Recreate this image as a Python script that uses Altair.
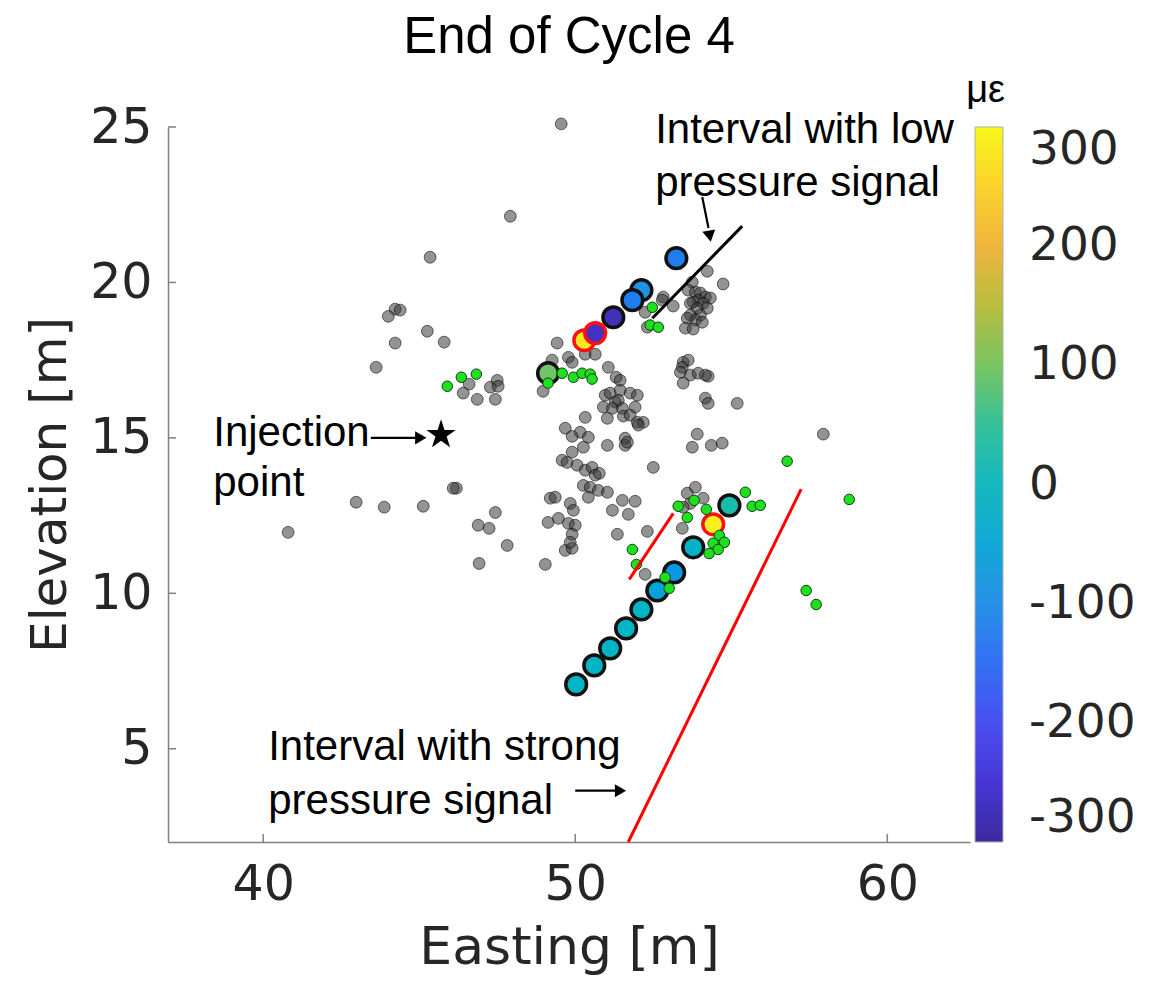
import altair as alt
import pandas as pd

# ---------------- data ----------------
gray_x = [49.55, 47.92, 45.35, 44.23, 44.39, 44.01, 45.26, 44.23, 45.80, 43.62,
          46.60, 46.41, 47.28, 47.50, 47.53, 46.86, 47.44, 46.19, 46.09, 42.98,
          43.88, 45.13, 40.80, 47.44, 46.89, 47.24, 47.82, 46.92, 49.04,
          49.42, 49.26, 49.78, 49.90, 50.32, 50.64, 48.97, 51.06, 51.31, 51.44,
          50.96, 51.12, 51.44, 51.76, 51.99, 51.38, 51.28, 50.90, 51.19, 51.51,
          51.92, 51.54, 51.76, 51.03, 51.99, 52.18, 52.02, 50.32, 49.68, 50.16,
          49.90, 50.42, 50.26, 51.03, 51.60, 51.60, 51.67, 49.90, 49.58, 49.74,
          50.06, 50.32, 50.54, 50.64, 50.77, 52.50, 50.26, 50.48, 50.74, 51.03,
          50.42, 49.20, 49.36, 49.84, 49.94, 51.51, 51.92, 51.19, 51.70, 49.13,
          49.46, 49.78, 50.00, 49.90, 51.35, 52.31, 49.68, 49.90, 49.84, 52.24,
          53.43, 53.59, 53.85, 54.10, 53.69, 53.46,
          54.23, 54.74, 53.75, 52.82, 53.14, 52.24, 52.31, 52.79, 53.62, 53.85,
          54.01, 54.17, 54.33, 53.94, 53.78, 53.69, 54.10, 54.23, 53.91, 53.69,
          54.01, 53.85, 53.59, 54.07, 53.53, 53.78, 53.46, 53.62, 53.43, 53.37,
          53.69, 53.94, 54.26, 54.17, 53.46, 54.17, 54.26, 55.19, 53.91, 53.75,
          54.36, 54.71, 57.95]
gray_y = [25.10, 22.13, 20.81, 19.14, 19.11, 18.91, 18.43, 18.05, 18.08, 17.27,
          16.73, 16.44, 16.63, 16.85, 16.66, 16.24, 16.24, 13.38, 13.38, 12.93,
          12.77, 12.80, 11.96, 12.60, 12.19, 12.09, 11.54, 10.96, 10.93,
          18.05, 17.50, 17.59, 17.43, 17.69, 17.69, 16.50, 17.27, 16.95, 16.85,
          16.37, 16.44, 16.53, 16.44, 16.37, 16.21, 16.15, 15.99, 15.95, 15.95,
          15.99, 15.70, 15.73, 15.63, 15.50, 15.50, 15.41, 15.66, 15.31, 15.18,
          15.05, 15.02, 14.70, 14.76, 14.99, 14.76, 14.86, 14.54, 14.28, 14.21,
          14.12, 13.96, 14.05, 13.80, 13.86, 14.05, 13.47, 13.41, 13.31, 13.25,
          13.09, 13.06, 13.09, 12.89, 12.67, 12.99, 12.96, 12.67, 12.54, 12.28,
          12.41, 12.25, 12.19, 11.90, 11.90, 11.99, 11.38, 11.45, 11.64, 10.61,
          12.09, 13.22, 13.41, 13.06, 12.89, 12.77,
          20.36, 19.95, 20.01, 19.53, 19.24, 19.04, 18.56, 19.43, 19.75, 19.69,
          19.66, 19.53, 19.50, 19.43, 19.37, 19.33, 19.33, 19.17, 19.17, 18.95,
          18.95, 18.79, 18.85, 18.72, 18.53, 18.50, 17.43, 17.50, 17.27, 17.11,
          17.02, 17.08, 16.98, 17.02, 16.76, 16.28, 16.11, 16.11, 15.12, 14.70,
          14.76, 14.83, 15.12]

green_x = [45.90, 46.35, 46.83, 49.13, 49.58, 49.94, 50.22, 50.48, 50.54, 52.47,
           52.40, 52.66, 56.79, 58.78, 55.45, 55.67, 55.93, 53.30, 53.81, 54.20,
           53.59, 54.62, 54.78, 54.42, 54.58, 54.29, 51.83, 51.96, 52.88, 53.01,
           57.40, 57.72]
green_y = [16.66, 16.95, 17.05, 16.76, 17.08, 16.95, 17.08, 17.05, 16.89, 19.20,
           18.63, 18.56, 14.25, 13.02, 13.25, 12.80, 12.83, 12.80, 12.99, 12.70,
           12.44, 11.86, 11.64, 11.61, 11.41, 11.28, 11.41, 10.93, 10.51, 10.16,
           10.09, 9.64]

big_x = [53.24, 52.12, 51.83, 51.22, 50.29, 50.64, 49.13,
         54.94, 54.42, 53.78, 53.17, 52.63, 52.12, 51.63, 51.12, 50.61, 50.03]
big_y = [20.78, 19.75, 19.43, 18.88, 18.14, 18.37, 17.08,
         12.83, 12.22, 11.48, 10.67, 10.09, 9.48, 8.87, 8.23, 7.68, 7.07]
big_val = [-130, -95, -130, -275, 280, -265, 95,
           25, 290, -15, -85, -60, -15, -10, -15, -15, -10]
big_edge = ["black", "black", "black", "black", "red", "red", "black",
            "black", "red", "black", "black", "black", "black", "black", "black", "black", "black"]

star_x = [45.7]
star_y = [15.1]

seg_x = [52.47, 51.73, 51.70]
seg_y = [18.85, 10.45, 2.0]
seg_x2 = [55.35, 53.14, 57.24]
seg_y2 = [21.81, 12.57, 13.35]
seg_col = ["black", "red", "red"]

arrow_x = [43.45, 50.00, 54.07]
arrow_y = [15.0, 3.65, 22.75]
arrow_x2 = [44.95, 51.30, 54.27]
arrow_y2 = [15.0, 3.65, 21.75]
head_x = [45.05, 51.45, 54.30]
head_y = [15.0, 3.65, 21.55]
head_shape = ["triangle-right", "triangle-right", "triangle"]
head_angle = [0, 0, 170]

note_x = [52.56, 52.56, 38.40, 38.40, 40.16, 40.16]
note_y = [24.90, 23.20, 15.15, 13.54, 5.07, 3.33]
note_text = ["Interval with low", "pressure signal", "Injection", "point",
             "Interval with strong", "pressure signal"]

unit_x = [63.15]
unit_y = [26.15]
unit_text = ["με"]

x_ticks = [40, 50, 60]
y_ticks = [5, 10, 15, 20, 25]
cbar_ticks = [300, 200, 100, 0, -100, -200, -300]

parula_dom = [-300, -250, -200, -150, -100, -50, 0, 50, 100, 150, 200, 250, 300]
parula_rng = ["#3c2a9e", "#4636d4", "#4850ef", "#3370f4", "#2690e6", "#12a8d6",
              "#14b8be", "#35c09a", "#78c562", "#b8bd40", "#efb53c", "#fbd22e",
              "#f7f81a"]

STAR_PATH = ("M0,-1L0.2245,-0.309L0.951,-0.309L0.3633,0.118L0.5878,0.809"
             "L0,0.382L-0.5878,0.809L-0.3633,0.118L-0.951,-0.309L-0.2245,-0.309Z")

# ---------------- frames ----------------
gray_df = pd.DataFrame({"x": gray_x, "y": gray_y})
green_df = pd.DataFrame({"x": green_x, "y": green_y})
big_df = pd.DataFrame({"x": big_x, "y": big_y, "v": big_val, "edge": big_edge})
star_df = pd.DataFrame({"x": star_x, "y": star_y})
seg_df = pd.DataFrame({"x": seg_x, "y": seg_y, "x2": seg_x2, "y2": seg_y2, "c": seg_col})
arr_df = pd.DataFrame({"x": arrow_x, "y": arrow_y, "x2": arrow_x2, "y2": arrow_y2})
head_df = pd.DataFrame({"x": head_x, "y": head_y, "s": head_shape, "a": head_angle})
note_df = pd.DataFrame({"x": note_x, "y": note_y, "t": note_text})
unit_df = pd.DataFrame({"x": unit_x, "y": unit_y, "t": unit_text})
xt_df = pd.DataFrame({"x": x_ticks})
yt_df = pd.DataFrame({"y": y_ticks})

W, H = 802, 715
xs = alt.Scale(domain=[36.95, 62.65], nice=False, zero=False)
ys = alt.Scale(domain=[2, 25], nice=False, zero=False)

x_axis = alt.Axis(values=x_ticks, title="Easting [m]", labelPadding=18,
                  titlePadding=13, titleFontSize=52)
y_axis = alt.Axis(values=y_ticks, title="Elevation [m]", labelPadding=16, titlePadding=14)
X = alt.X("x:Q", scale=xs, axis=x_axis)
Y = alt.Y("y:Q", scale=ys, axis=y_axis)

gray = alt.Chart(gray_df).mark_circle(
    size=140, fill="#3a3a3a", fillOpacity=0.55, stroke="#000000",
    strokeOpacity=0.55, strokeWidth=1, opacity=1
).encode(x=X, y=Y)

big = alt.Chart(big_df).mark_circle(size=430, strokeWidth=3.5, opacity=1, fillOpacity=1).encode(
    x=X, y=Y,
    fill=alt.Fill("v:Q", title=None,
                  scale=alt.Scale(domain=parula_dom, range=parula_rng),
                  legend=alt.Legend(orient="none", legendX=W + 5, legendY=0,
                                    direction="vertical", gradientLength=H,
                                    gradientThickness=28, values=cbar_ticks,
                                    labelExpr="toString(datum.value)",
                                    labelFontSize=47, labelFont="DejaVu Sans",
                                    labelColor="#262626", labelOffset=26,
                                    labelBaseline="middle", labelOverlap=False,
                                    gradientStrokeColor="#b0b0b0",
                                    gradientStrokeWidth=1, padding=0)),
    stroke=alt.Stroke("edge:N", scale=alt.Scale(domain=["black", "red"],
                                                range=["#111111", "#ff1010"]),
                      legend=None),
)

green = alt.Chart(green_df).mark_circle(
    size=110, fill="#1fe01f", fillOpacity=1, stroke="#0d3d0d",
    strokeWidth=1, opacity=1
).encode(x=X, y=Y)

segs = alt.Chart(seg_df).mark_rule(strokeWidth=3).encode(
    x=X, y=Y, x2="x2:Q", y2="y2:Q", color=alt.Color("c:N", scale=None))

shafts = alt.Chart(arr_df).mark_rule(strokeWidth=2.2, color="black").encode(
    x=X, y=Y, x2="x2:Q", y2="y2:Q")

heads = alt.Chart(head_df).mark_point(filled=True, color="black", size=170, opacity=1).encode(
    x=X, y=Y, shape=alt.Shape("s:N", scale=None), angle=alt.Angle("a:Q", scale=None))

star = alt.Chart(star_df).mark_point(shape=STAR_PATH, filled=True, color="black",
                                     size=950, opacity=1).encode(x=X, y=Y)

notes = alt.Chart(note_df).mark_text(align="left", baseline="middle",
                                     font="Liberation Sans", fontSize=42,
                                     color="black").encode(x=X, y=Y, text="t:N")

unit = alt.Chart(unit_df).mark_text(align="center", baseline="middle",
                                    font="Liberation Sans", fontSize=38,
                                    color="black").encode(x=X, y=Y, text="t:N")

xtick = alt.Chart(xt_df).mark_rule(color="#808080", strokeWidth=1.5).encode(
    x=X, y=alt.value(H), y2=alt.value(H - 8))
ytick = alt.Chart(yt_df).mark_rule(color="#808080", strokeWidth=1.5).encode(
    y=Y, x=alt.value(0), x2=alt.value(8))

chart = alt.layer(
    gray, big, green, segs, shafts, heads, star, notes, unit, xtick, ytick
).properties(
    width=W, height=H,
    title=alt.Title("End of Cycle 4", font="Liberation Sans", fontSize=51,
                    fontWeight="normal", color="black", anchor="middle", offset=8),
    autosize=alt.AutoSizeParams(type="none"),
    padding={"left": 160, "top": 119, "right": 180, "bottom": 133},
).configure_view(stroke=None).configure_axis(
    domainColor="#808080", domainWidth=1.5, ticks=False, grid=False,
    labelFont="DejaVu Sans", labelFontSize=49, labelColor="#262626",
    titleFont="DejaVu Sans", titleFontSize=50, titleFontWeight="normal",
    titleColor="#262626"
)

chart.save("out.html", embed_options={"renderer": "svg", "actions": False})
